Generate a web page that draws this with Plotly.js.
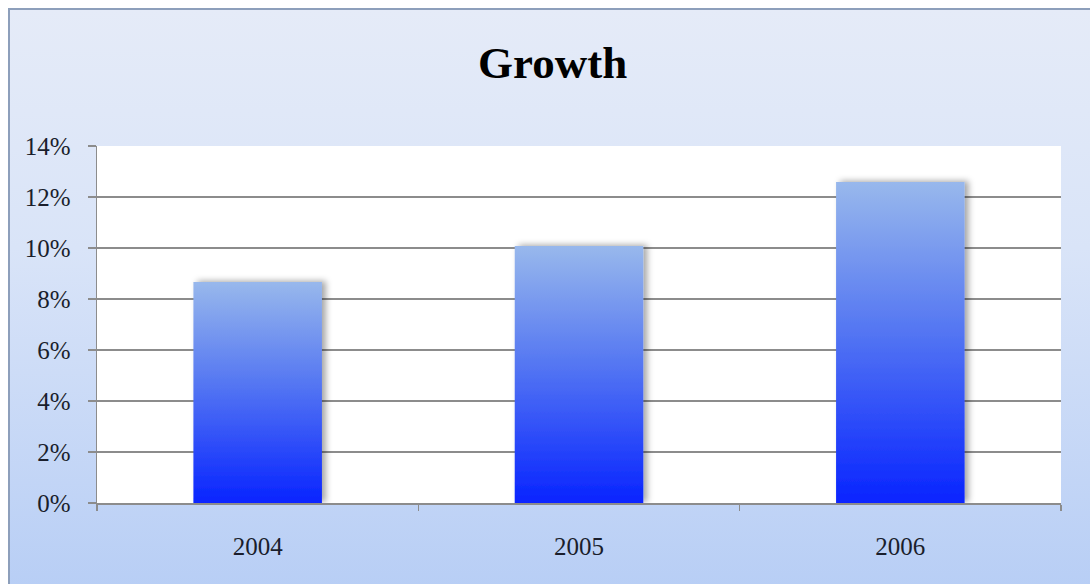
<!DOCTYPE html>
<html>
<head>
<meta charset="utf-8">
<script src="https://cdn.plot.ly/plotly-3.0.1.min.js"></script>
<style>
  html, body { margin: 0; padding: 0; width: 1090px; height: 584px; overflow: hidden; background: #ffffff; }
  #frame { position: absolute; left: 8px; top: 8px; width: 1100px; height: 600px;
           border: 2px solid #8d9fbb; box-sizing: border-box;
           background: linear-gradient(to bottom, #e5ebf8 0%, #d9e4f8 40%, #b6cdf5 100%); }
  #chart { position: absolute; left: 0; top: 0; width: 1090px; height: 584px; }
</style>
</head>
<body>
<div id="frame"></div>
<div id="chart"></div>
<svg width="0" height="0" style="position:absolute">
  <defs>
    <linearGradient id="barGrad" x1="0" y1="0" x2="0" y2="1">
      <stop offset="0%" stop-color="#98b8ec"/>
      <stop offset="45%" stop-color="#5678f2"/>
      <stop offset="100%" stop-color="#0824ff"/>
    </linearGradient>
    <filter id="barShadow" x="-10%" y="-10%" width="130%" height="120%">
      <feDropShadow dx="4" dy="-1" stdDeviation="3" flood-color="#000" flood-opacity="0.35"/>
    </filter>
  </defs>
</svg>
<script>
const categories = ['2004', '2005', '2006'];
const growth = [0.0867, 0.1008, 0.1259];
const yTickVals = [0, 0.02, 0.04, 0.06, 0.08, 0.10, 0.12, 0.14];

const serif = 'Liberation Serif, DejaVu Serif, serif';

const data = [{
  type: 'bar',
  x: categories,
  y: growth,
  width: 0.4,
  marker: { color: '#4a6cf4', line: { width: 0 } },
  hoverinfo: 'none'
}];

const layout = {
  width: 1090, height: 584,
  margin: { l: 97, r: 29, t: 146, b: 81 },
  paper_bgcolor: 'rgba(0,0,0,0)',
  plot_bgcolor: '#ffffff',
  showlegend: false,
  title: {
    text: '<b>Growth</b>',
    font: { family: serif, size: 45, color: '#000000' },
    xref: 'container', x: 0.507, xanchor: 'center',
    yref: 'container', y: 0.893, yanchor: 'middle'
  },
  xaxis: {
    type: 'category',
    tickson: 'boundaries',
    ticks: 'outside', ticklen: 6, tickcolor: '#8c8c8c', tickwidth: 1.5,
    showline: true, linecolor: '#8c8c8c', linewidth: 1.5,
    showgrid: false,
    ticklabelstandoff: 20,
    tickfont: { family: serif, size: 25, color: '#1a1e2c' }
  },
  yaxis: {
    range: [0, 0.14],
    tickvals: yTickVals,
    tickformat: '.0%',
    ticks: 'outside', ticklen: 8, tickcolor: '#8c8c8c', tickwidth: 1.5,
    showline: true, linecolor: '#8c8c8c', linewidth: 1.5,
    showgrid: true, gridcolor: '#8c8c8c', gridwidth: 1.5,
    zeroline: false,
    ticklabelstandoff: 12,
    tickfont: { family: serif, size: 25, color: '#1a1e2c' }
  }
};

function styleBars() {
  document.querySelectorAll('#chart .barlayer .point path').forEach(p => {
    p.style.fill = 'url(#barGrad)';
    p.style.filter = 'url(#barShadow)';
  });
}

const gd = document.getElementById('chart');
Plotly.newPlot(gd, data, layout, { staticPlot: true, displayModeBar: false }).then(() => {
  styleBars();
  gd.on && gd.on('plotly_afterplot', styleBars);
});
</script>
</body>
</html>
